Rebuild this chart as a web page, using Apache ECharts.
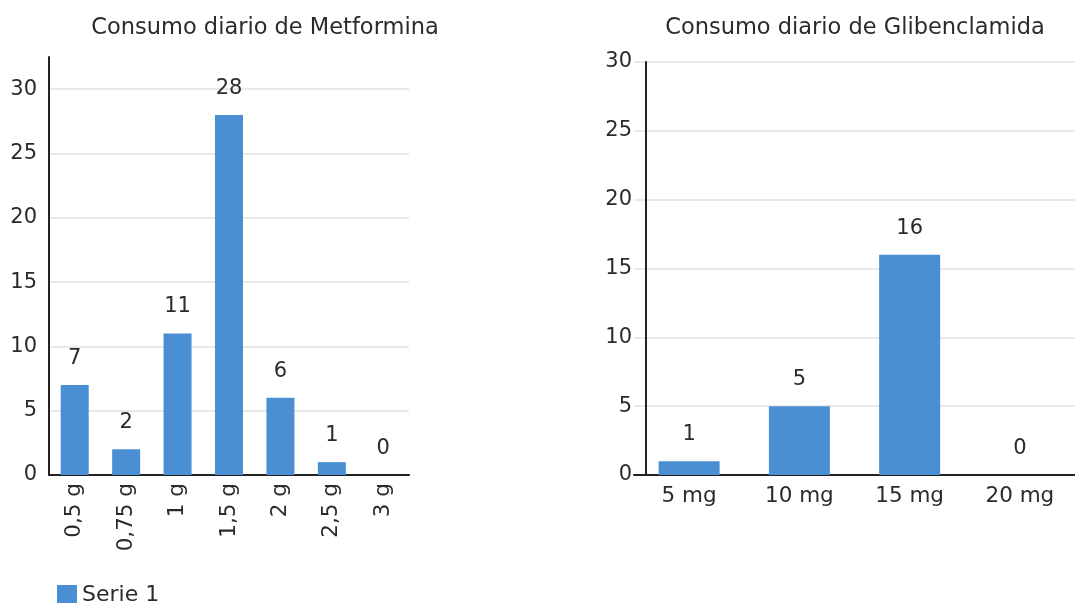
<!DOCTYPE html>
<html>
<head>
<meta charset="utf-8">
<script src="https://cdn.jsdelivr.net/npm/echarts@6/dist/echarts.min.js"></script>
<style>
  html, body { margin: 0; padding: 0; background: #fff; }
  #chart { width: 1075px; height: 603px; }
</style>
</head>
<body>
<div id="chart"></div>
<script>
// Daily consumption counts
const metforminaCategories = ['0,5 g', '0,75 g', '1 g', '1,5 g', '2 g', '2,5 g', '3 g'];
const metforminaValues = [7, 2, 11, 28, 6, 1, 0];
const glibenclamidaCategories = ['5 mg', '10 mg', '15 mg', '20 mg'];
const glibenclamidaValues = [1, 5, 16, 0];
const seriesName = 'Serie 1';
const titleMetformina = 'Consumo diario de Metformina';
const titleGlibenclamida = 'Consumo diario de Glibenclamida';

const FONT = 'DejaVu Sans';
const TEXT = '#2b2b2b';
const BAR = '#4a8fd4';

const chart = echarts.init(document.getElementById('chart'));

function yAxisFor(gridIndex, max, offset, margin) {
  return {
    gridIndex: gridIndex,
    type: 'value',
    min: 0,
    max: max,
    interval: 5,
    offset: offset,
    axisLine: { show: true, lineStyle: { color: '#222', width: 2 } },
    axisTick: { show: false },
    axisLabel: { color: TEXT, fontFamily: FONT, fontSize: 21, margin: margin, showMaxLabel: max % 5 === 0 },
    splitLine: { show: true, showMinLine: false, showMaxLine: max % 5 === 0, lineStyle: { color: '#e2e2e2', width: 1.5 } }
  };
}

function barSeries(axisIndex, values, width) {
  return {
    name: seriesName,
    type: 'bar',
    xAxisIndex: axisIndex,
    yAxisIndex: axisIndex,
    data: values,
    barWidth: width,
    itemStyle: { color: BAR },
    label: {
      show: true,
      position: 'top',
      distance: 16,
      color: TEXT,
      fontFamily: FONT,
      fontSize: 21
    }
  };
}

chart.setOption({
  animation: false,
  textStyle: { fontFamily: FONT },
  title: [
    { text: titleMetformina, left: 260, top: 12, textAlign: 'center',
      textStyle: { fontFamily: FONT, fontSize: 22.5, fontWeight: 'normal', color: TEXT } },
    { text: titleGlibenclamida, left: 850, top: 12, textAlign: 'center',
      textStyle: { fontFamily: FONT, fontSize: 22.5, fontWeight: 'normal', color: TEXT } }
  ],
  legend: {
    data: [seriesName],
    left: 57,
    top: 584,
    padding: 0,
    icon: 'rect',
    itemWidth: 20,
    itemHeight: 20,
    itemGap: 10,
    textStyle: { fontFamily: FONT, fontSize: 22, color: TEXT }
  },
  grid: [
    { left: 49, top: 57, width: 360, bottom: 128 },
    { left: 634, top: 62, width: 448, bottom: 128 }
  ],
  xAxis: [
    {
      gridIndex: 0,
      type: 'category',
      data: metforminaCategories,
      axisLine: { lineStyle: { color: '#222', width: 2 } },
      axisTick: { show: false },
      axisLabel: { rotate: 90, margin: 8, color: TEXT, fontFamily: FONT, fontSize: 21.5, interval: 0 }
    },
    {
      gridIndex: 1,
      type: 'category',
      data: glibenclamidaCategories,
      axisLine: { lineStyle: { color: '#222', width: 2 } },
      axisTick: { show: false },
      axisLabel: { margin: 10, color: TEXT, fontFamily: FONT, fontSize: 21.5, interval: 0 }
    }
  ],
  yAxis: [
    yAxisFor(0, 32.5, 0, 12),
    yAxisFor(1, 30, -12, 14)
  ],
  series: [
    barSeries(0, metforminaValues, 28),
    barSeries(1, glibenclamidaValues, 61)
  ]
});
</script>
</body>
</html>
